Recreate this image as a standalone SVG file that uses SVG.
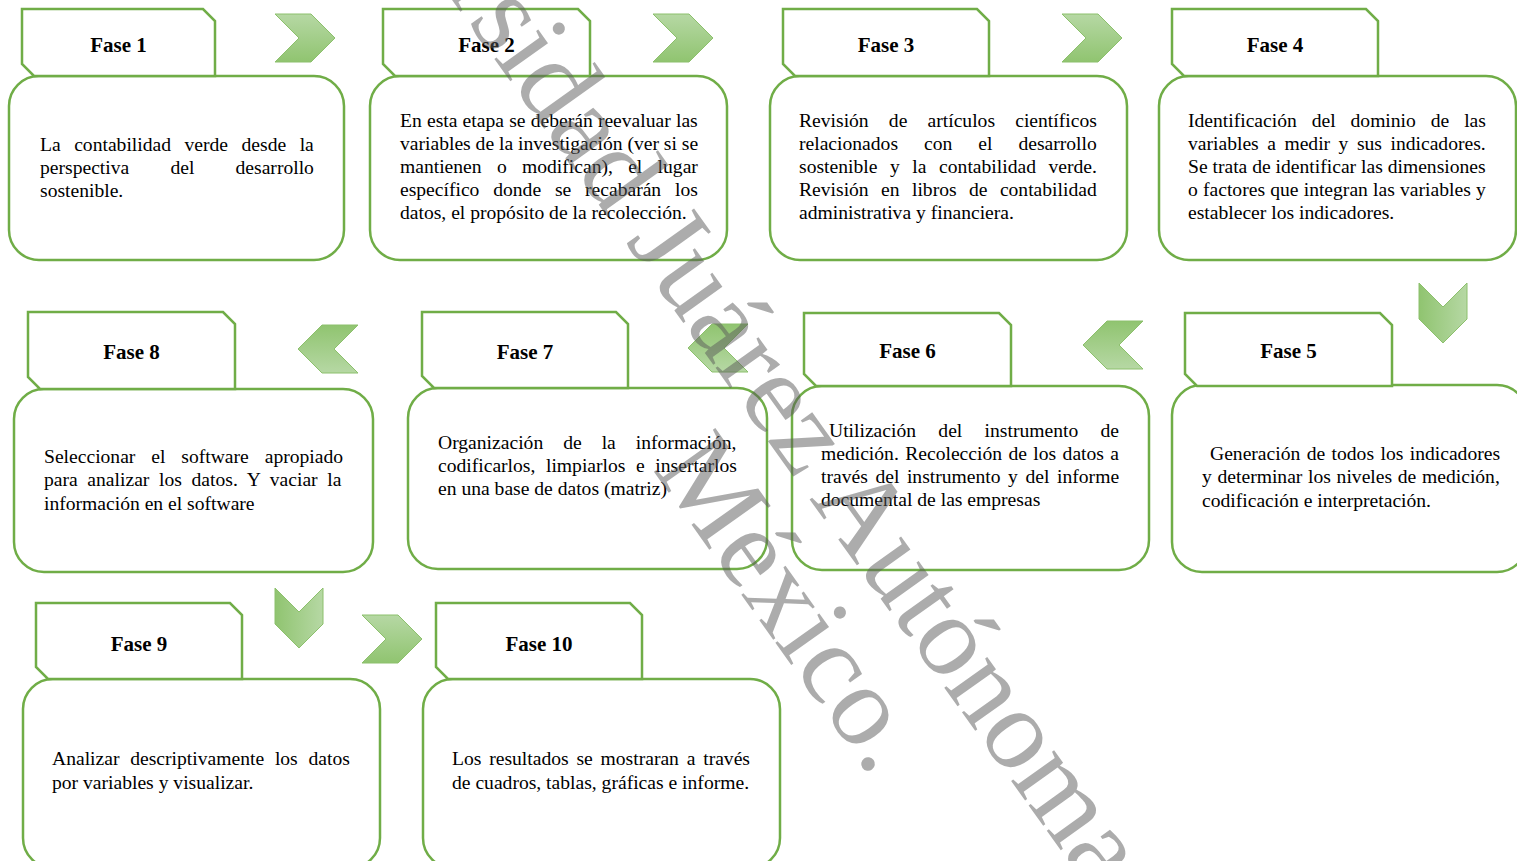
<svg xmlns="http://www.w3.org/2000/svg" width="1517" height="861" viewBox="0 0 1517 861">
<style>
.box{fill:#fff;stroke:#70ad47;stroke-width:2.5}
.tab{fill:#fff;stroke:#70ad47;stroke-width:2.5;stroke-linejoin:miter}
.ttl{font-family:"Liberation Serif","Times New Roman",serif;font-weight:bold;font-size:21px;fill:#000;text-anchor:middle}
.txt{font-family:"Liberation Serif","Times New Roman",serif;font-size:19.6px;fill:#000}
.chev{fill:url(#cg);stroke:#8cc06c;stroke-width:1}
.wm{font-family:"Liberation Serif","Times New Roman",serif;font-size:115px;fill:#595959;fill-opacity:0.5}
</style>
<defs>
<linearGradient id="cg" x1="0" y1="0" x2="0" y2="1">
<stop offset="0" stop-color="#b6d8a4"/>
<stop offset="1" stop-color="#90c470"/>
</linearGradient>
<path id="chv" d="M0,0 L36,0 L60,24 L36,48 L0,48 L24,24 Z"/>
</defs>
<rect width="1517" height="861" fill="#fff"/>

<g id="connectors">
<use href="#chv" class="chev" transform="translate(275,14)"/>
<use href="#chv" class="chev" transform="translate(653,14)"/>
<use href="#chv" class="chev" transform="translate(1062,14)"/>
<use href="#chv" class="chev" transform="translate(1467,283) rotate(90)"/>
<use href="#chv" class="chev" transform="translate(1143,369) rotate(180)"/>
<use href="#chv" class="chev" transform="translate(748,372) rotate(180)"/>
<use href="#chv" class="chev" transform="translate(358,373) rotate(180)"/>
<use href="#chv" class="chev" transform="translate(323,588) rotate(90)"/>
<use href="#chv" class="chev" transform="translate(362,615)"/>
</g>

<g id="fase1">
<rect class="box" x="9" y="76" width="335" height="184" rx="30"/>
<path class="tab" d="M22,9 L203,9 L215,21 L215,76 L34,76 L22,64 Z"/>
<text class="ttl" x="118.5" y="52">Fase 1</text>
<text class="txt" x="40" y="151" style="word-spacing:8.6px">La contabilidad verde desde la</text>
<text class="txt" x="40" y="174" style="word-spacing:36.3px">perspectiva del desarrollo</text>
<text class="txt" x="40" y="197">sostenible.</text>
</g>

<g id="fase2">
<rect class="box" x="370" y="76" width="357" height="184" rx="30"/>
<path class="tab" d="M383,9 L578,9 L590,21 L590,76 L395,76 L383,64 Z"/>
<text class="ttl" x="486.5" y="52">Fase 2</text>
<text class="txt" x="400" y="127" style="word-spacing:0.3px">En esta etapa se deberán reevaluar las</text>
<text class="txt" x="400" y="150">variables de la investigación (ver si se</text>
<text class="txt" x="400" y="173" style="word-spacing:10.4px">mantienen o modifican), el lugar</text>
<text class="txt" x="400" y="196" style="word-spacing:8.9px">específico donde se recabarán los</text>
<text class="txt" x="400" y="219">datos, el propósito de la recolección.</text>
</g>

<g id="fase3">
<rect class="box" x="770" y="76" width="357" height="184" rx="30"/>
<path class="tab" d="M783,9 L977,9 L989,21 L989,76 L795,76 L783,64 Z"/>
<text class="ttl" x="886" y="52">Fase 3</text>
<text class="txt" x="799" y="127" style="word-spacing:15.3px">Revisión de artículos científicos</text>
<text class="txt" x="799" y="150" style="word-spacing:21.1px">relacionados con el desarrollo</text>
<text class="txt" x="799" y="173" style="word-spacing:7.7px">sostenible y la contabilidad verde.</text>
<text class="txt" x="799" y="196" style="word-spacing:7.5px">Revisión en libros de contabilidad</text>
<text class="txt" x="799" y="219">administrativa y financiera.</text>
</g>

<g id="fase4">
<rect class="box" x="1159" y="76" width="357" height="184" rx="30"/>
<path class="tab" d="M1172,9 L1366,9 L1378,21 L1378,76 L1184,76 L1172,64 Z"/>
<text class="ttl" x="1275" y="52">Fase 4</text>
<text class="txt" x="1188" y="127" style="word-spacing:10px">Identificación del dominio de las</text>
<text class="txt" x="1188" y="150" style="word-spacing:3.6px">variables a medir y sus indicadores.</text>
<text class="txt" x="1188" y="173">Se trata de identificar las dimensiones</text>
<text class="txt" x="1188" y="196" style="word-spacing:0.3px">o factores que integran las variables y</text>
<text class="txt" x="1188" y="219">establecer los indicadores.</text>
</g>

<g id="fase5">
<rect class="box" x="1172" y="385" width="355" height="187" rx="30"/>
<path class="tab" d="M1185,313 L1380,313 L1392,325 L1392,386 L1197,386 L1185,374 Z"/>
<text class="ttl" x="1288.5" y="358">Fase 5</text>
<text class="txt" x="1210" y="460" style="word-spacing:1.5px">Generación de todos los indicadores</text>
<text class="txt" x="1202" y="483" style="word-spacing:0.8px">y determinar los niveles de medición,</text>
<text class="txt" x="1202" y="507">codificación e interpretación.</text>
</g>

<g id="fase6">
<rect class="box" x="792" y="386" width="357" height="184" rx="30"/>
<path class="tab" d="M804,313 L999,313 L1011,325 L1011,386 L816,386 L804,374 Z"/>
<text class="ttl" x="907.5" y="358">Fase 6</text>
<text class="txt" x="829" y="437" style="word-spacing:17.4px">Utilización del instrumento de</text>
<text class="txt" x="821" y="460" style="word-spacing:1.5px">medición. Recolección de los datos a</text>
<text class="txt" x="821" y="483" style="word-spacing:2.7px">través del instrumento y del informe</text>
<text class="txt" x="821" y="506">documental de las empresas</text>
</g>

<g id="fase7">
<rect class="box" x="408" y="388" width="359" height="181" rx="30"/>
<path class="tab" d="M422,312 L616,312 L628,324 L628,388 L434,388 L422,376 Z"/>
<text class="ttl" x="525" y="359">Fase 7</text>
<text class="txt" x="438" y="449" style="word-spacing:15.1px">Organización de la información,</text>
<text class="txt" x="438" y="472" style="word-spacing:5.7px">codificarlos, limpiarlos e insertarlos</text>
<text class="txt" x="438" y="495">en una base de datos (matriz)</text>
</g>

<g id="fase8">
<rect class="box" x="14" y="389" width="359" height="183" rx="30"/>
<path class="tab" d="M28,312 L223,312 L235,324 L235,389 L40,389 L28,377 Z"/>
<text class="ttl" x="131.5" y="359">Fase 8</text>
<text class="txt" x="44" y="463" style="word-spacing:11px">Seleccionar el software apropiado</text>
<text class="txt" x="44" y="486" style="word-spacing:4.75px">para analizar los datos. Y vaciar la</text>
<text class="txt" x="44" y="510">información en el software</text>
</g>

<g id="fase9">
<rect class="box" x="23" y="679" width="357" height="189" rx="30"/>
<path class="tab" d="M36,603 L230,603 L242,615 L242,679 L48,679 L36,667 Z"/>
<text class="ttl" x="139" y="651">Fase 9</text>
<text class="txt" x="52" y="765" style="word-spacing:5.9px">Analizar descriptivamente los datos</text>
<text class="txt" x="52" y="789">por variables y visualizar.</text>
</g>

<g id="fase10">
<rect class="box" x="423" y="679" width="357" height="189" rx="30"/>
<path class="tab" d="M436,603 L630,603 L642,615 L642,679 L448,679 L436,667 Z"/>
<text class="ttl" x="539" y="651">Fase 10</text>
<text class="txt" x="452" y="765" style="word-spacing:2.9px">Los resultados se mostraran a través</text>
<text class="txt" x="452" y="789">de cuadros, tablas, gráficas e informe.</text>
</g>

<g id="watermark">
<text class="wm" transform="translate(281,-239) rotate(54.4)">Universidad Juárez Autónoma de Tabasco.</text>
<text class="wm" transform="translate(652,469) rotate(54.6)">México.</text>
</g>
</svg>
